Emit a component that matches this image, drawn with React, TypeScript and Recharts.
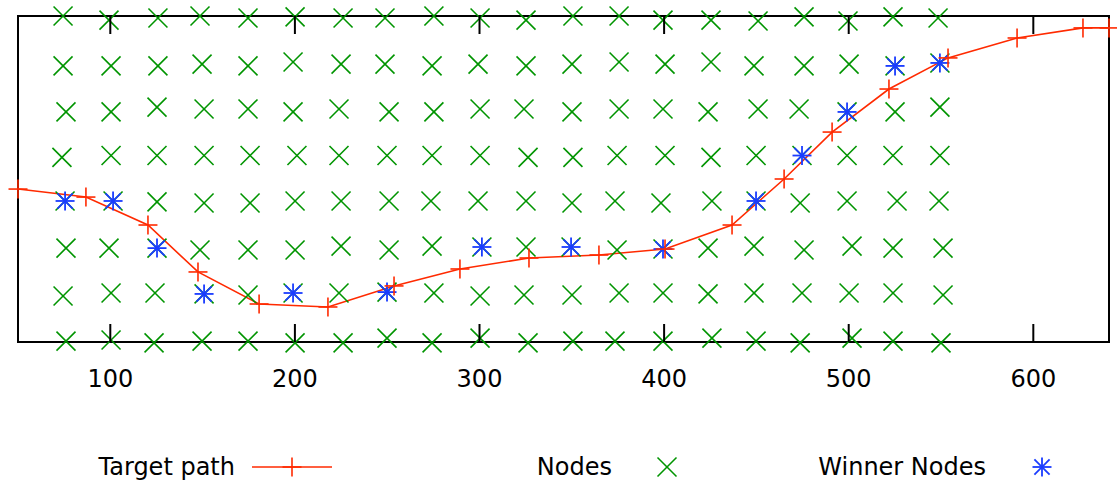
import React from "react";
import { ComposedChart, Line, Scatter, XAxis, YAxis, ReferenceArea, Legend } from "recharts";

const xTicks = [100, 200, 300, 400, 500, 600];

// target path (red line with + markers)
const targetX = [50, 86.8, 120.4, 147.5, 180.6, 217.9, 253.7, 289.4, 326.8, 364.7, 400.5, 436.8, 465.0, 491.0, 521.8, 553.8, 591.2, 626.9, 641];
const targetY = [82.1, 77.8, 62.8, 37.6, 20.4, 18.8, 30.1, 39.2, 45.1, 46.7, 49.9, 62.8, 87.5, 112.7, 135.8, 152.5, 163.2, 168.6, 168.6];

// grid of nodes, one row per line, top row first
const nodeX = [
  74.4, 99.3, 125.8, 148.6, 174.6, 200.1, 226.1, 248.8, 275.3, 300.3, 325.2, 350.6, 375.6, 399.4, 425.4, 450.9, 475.8, 499.6, 524.0, 548.4,
  74.4, 100.4, 125.8, 149.7, 174.6, 199.0, 225.0, 248.8, 274.3, 299.2, 325.2, 350.1, 375.6, 400.5, 425.4, 448.7, 475.8, 500.2, 525.1, 549.4,
  76.0, 100.4, 125.3, 150.8, 174.6, 199.0, 223.9, 251.0, 275.3, 300.3, 324.1, 350.1, 375.6, 399.4, 423.8, 450.9, 473.1, 499.1, 525.1, 549.4,
  73.8, 100.4, 125.3, 150.8, 175.7, 201.1, 223.9, 249.9, 274.3, 300.3, 326.3, 350.6, 374.5, 400.5, 425.4, 449.8, 474.7, 499.1, 524.0, 549.4,
  75.5, 101.5, 125.3, 150.8, 175.7, 200.1, 225.0, 251.0, 273.7, 299.2, 325.2, 350.1, 373.4, 398.3, 425.9, 449.8, 473.7, 499.1, 526.2, 548.9,
  76.0, 99.3, 125.3, 148.6, 174.6, 200.1, 225.0, 251.0, 274.3, 301.3, 325.2, 349.6, 374.5, 399.4, 423.8, 448.7, 475.8, 501.8, 524.0, 551.1,
  74.4, 100.4, 124.2, 150.8, 174.6, 199.0, 223.9, 249.9, 275.3, 300.3, 324.1, 350.1, 375.6, 399.4, 423.8, 448.7, 474.7, 500.2, 524.0, 551.1,
  76.0, 100.4, 123.7, 149.7, 174.6, 200.1, 226.1, 249.9, 274.3, 300.3, 326.3, 350.6, 373.4, 399.4, 425.9, 449.8, 473.7, 501.8, 524.0, 550.0,
];
const nodeY = [
  175.0, 172.8, 173.9, 175.0, 173.9, 174.5, 173.9, 173.9, 175.0, 173.9, 172.8, 175.0, 175.0, 172.8, 172.8, 172.3, 174.5, 172.3, 174.5, 173.9,
  148.2, 148.2, 148.2, 149.2, 148.2, 150.3, 149.2, 149.2, 148.2, 149.2, 148.2, 149.2, 150.3, 149.2, 150.3, 148.2, 148.2, 149.2, 148.2, 149.8,
  123.5, 123.5, 126.1, 125.1, 125.1, 123.5, 125.1, 123.5, 123.5, 125.1, 125.1, 123.5, 125.1, 125.1, 123.5, 125.1, 125.1, 123.5, 123.5, 126.1,
  99.1, 100.1, 100.1, 100.1, 100.1, 100.1, 100.1, 100.1, 100.1, 100.1, 99.1, 99.1, 100.1, 100.1, 99.1, 100.1, 100.1, 100.1, 100.1, 100.1,
  75.7, 75.7, 75.2, 74.6, 74.6, 75.7, 75.7, 75.7, 75.7, 75.7, 75.7, 74.6, 75.7, 74.6, 75.7, 75.7, 74.6, 75.7, 75.7, 75.7,
  50.4, 50.4, 50.4, 49.4, 49.4, 49.4, 51.5, 49.4, 51.5, 51.0, 51.0, 51.0, 49.4, 49.9, 50.4, 51.5, 49.4, 51.5, 50.4, 50.4,
  24.7, 26.3, 26.3, 25.8, 25.2, 26.3, 26.3, 26.8, 26.3, 24.7, 25.2, 25.2, 26.3, 26.3, 25.8, 26.3, 26.3, 26.3, 26.3, 25.2,
  0.5, 1.1, -0.5, 0.5, 0.5, -0.5, -0.5, 2.1, -0.5, 2.1, -0.5, 0.5, 0.5, 0.5, 2.1, 0.5, -0.5, 2.1, 0.5, -0.5,
];

// winner nodes (blue *)
const winnerX = [75.5, 101.5, 125.3, 150.8, 199.0, 249.9, 301.3, 349.6, 399.4, 449.8, 474.7, 499.1, 525.1, 549.4];
const winnerY = [75.7, 75.7, 50.4, 25.8, 26.3, 26.8, 51.0, 51.0, 49.9, 75.7, 100.1, 123.5, 148.2, 149.8];

const targetData = targetX.map((x, i) => ({ x, y: targetY[i] }));
const nodeData = nodeX.map((x, i) => ({ x, y: nodeY[i] }));
const winnerData = winnerX.map((x, i) => ({ x, y: winnerY[i] }));

const RED = "#ff2a00";
const GREEN = "#009400";
const BLUE = "#1a3cff";
const FONT = "'DejaVu Sans', Verdana, sans-serif";
const FONT_SIZE = 24;
const W = 1117;
const H = 484;
const MARGIN = { top: 16, right: 8, bottom: 112, left: 18 };
const M = 9.5; // marker half size

const plus = (cx: number, cy: number, color: string) => (
  <g stroke={color} strokeWidth={1.6}>
    <line x1={cx - M} x2={cx + M} y1={cy} y2={cy} />
    <line x1={cx} x2={cx} y1={cy - M} y2={cy + M} />
  </g>
);

const cross = (cx: number, cy: number, color: string) => (
  <g stroke={color} strokeWidth={1.6}>
    <line x1={cx - M} x2={cx + M} y1={cy - M} y2={cy + M} />
    <line x1={cx - M} x2={cx + M} y1={cy + M} y2={cy - M} />
  </g>
);

const star = (cx: number, cy: number, color: string) => (
  <g stroke={color} strokeWidth={1.8}>
    <line x1={cx - M} x2={cx + M} y1={cy} y2={cy} />
    <line x1={cx} x2={cx} y1={cy - M} y2={cy + M} />
    <line x1={cx - M * 0.8} x2={cx + M * 0.8} y1={cy - M * 0.8} y2={cy + M * 0.8} />
    <line x1={cx - M * 0.8} x2={cx + M * 0.8} y1={cy + M * 0.8} y2={cy - M * 0.8} />
  </g>
);

const PlusDot = (props: any) => {
  const { cx, cy } = props;
  if (cx == null || cy == null) return null;
  return plus(cx, cy, RED);
};

const CrossShape = (props: any) => cross(props.cx, props.cy, GREEN);
const StarShape = (props: any) => star(props.cx, props.cy, BLUE);

// gnuplot style ticks: inward on bottom and top border, label below
const XTick = (props: any) => {
  const { x, y, payload } = props;
  return (
    <g>
      <line x1={x} x2={x} y1={y} y2={y - 18} stroke="#000" strokeWidth={2} />
      <line x1={x} x2={x} y1={MARGIN.top} y2={MARGIN.top + 18} stroke="#000" strokeWidth={2} />
      <text x={x} y={y + 44.5} textAnchor="middle" fontFamily={FONT} fontSize={FONT_SIZE} fill="#000">
        {payload.value}
      </text>
    </g>
  );
};

const legendSlots: Record<string, { textEnd: number; mark: number }> = {
  "Target path": { textEnd: 235, mark: 292 },
  Nodes: { textEnd: 612, mark: 667 },
  "Winner Nodes": { textEnd: 986, mark: 1042 },
};

const renderLegend = (props: any) => {
  const { payload } = props;
  return (
    <svg width={W} height={44}>
      {(payload || []).map((entry: any) => {
        const slot = legendSlots[entry.value];
        if (!slot) return null;
        return (
          <g key={entry.value}>
            <text x={slot.textEnd} y={35} textAnchor="end" fontFamily={FONT} fontSize={FONT_SIZE} fill="#000">
              {entry.value}
            </text>
            {entry.value === "Target path" && (
              <g>
                <line x1={slot.mark - 40} x2={slot.mark + 40} y1={27} y2={27} stroke={RED} strokeWidth={1.6} />
                {plus(slot.mark, 27, RED)}
              </g>
            )}
            {entry.value === "Nodes" && cross(slot.mark, 27, GREEN)}
            {entry.value === "Winner Nodes" && star(slot.mark, 27, BLUE)}
          </g>
        );
      })}
    </svg>
  );
};

export default function App() {
  return (
    <div>
      <style>{`body{margin:0} .recharts-surface [clip-path]{clip-path:none}`}</style>
      <ComposedChart width={W} height={H} data={targetData} margin={MARGIN}>
        <XAxis
          dataKey="x"
          type="number"
          domain={[50, 641]}
          allowDataOverflow
          ticks={xTicks}
          interval={0}
          axisLine={false}
          tickLine={false}
          tickSize={0}
          tickMargin={0}
          height={30}
          tick={<XTick />}
        />
        <YAxis dataKey="y" type="number" domain={[0, 175]} allowDataOverflow hide />
        <ReferenceArea x1={50} x2={641} y1={0} y2={175} fill="none" stroke="#000" strokeWidth={2} />
        <Scatter name="Nodes" data={nodeData} shape={CrossShape} isAnimationActive={false} />
        <Line
          name="Target path"
          dataKey="y"
          stroke={RED}
          strokeWidth={1.6}
          dot={<PlusDot />}
          activeDot={false}
          isAnimationActive={false}
        />
        <Scatter name="Winner Nodes" data={winnerData} shape={StarShape} isAnimationActive={false} />
        <Legend
          verticalAlign="middle"
          align="center"
          layout="horizontal"
          content={renderLegend}
          wrapperStyle={{ left: 0, top: 440, width: W, height: 44 }}
        />
      </ComposedChart>
    </div>
  );
}
